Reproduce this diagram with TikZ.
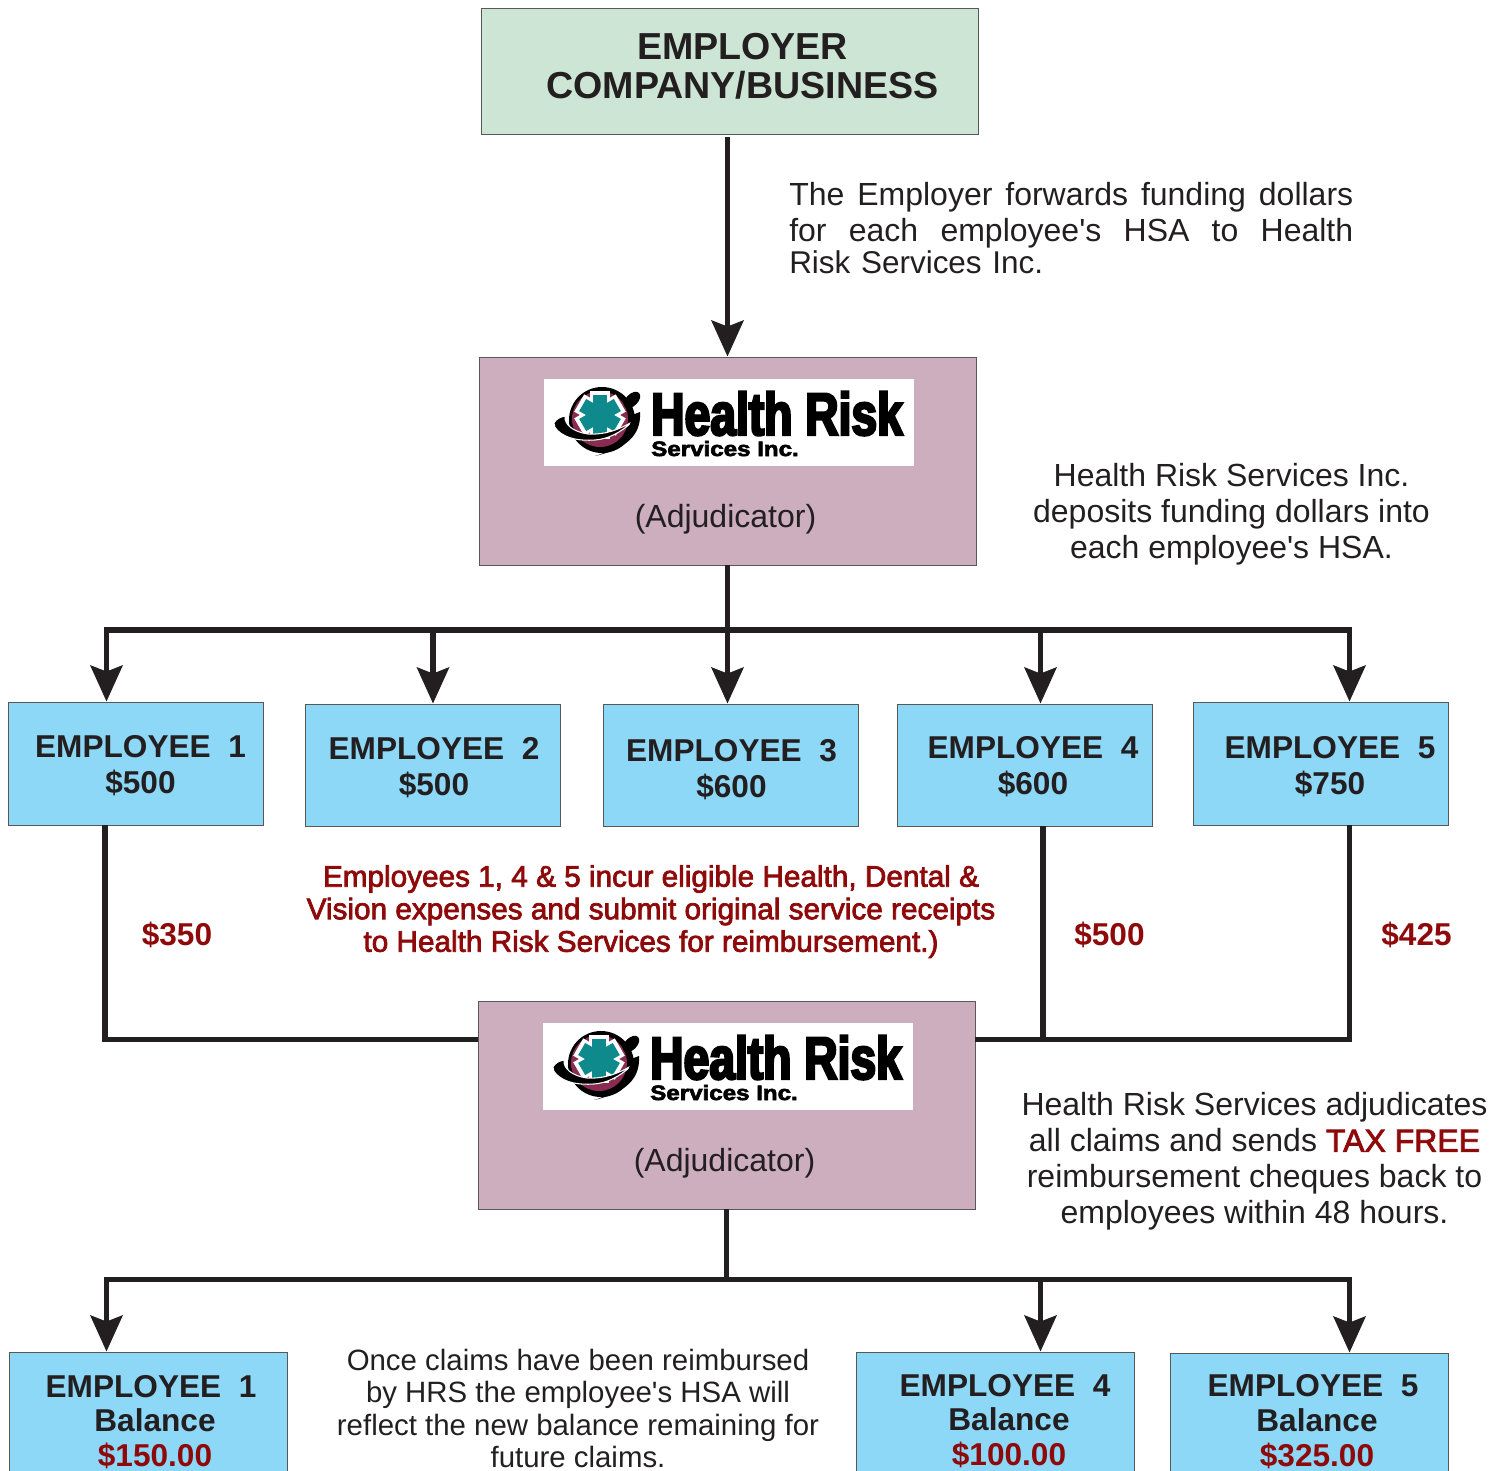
\documentclass[tikz,border=0pt]{standalone}
\usepackage{fontspec}
\setmainfont{Liberation Sans}
\newfontfamily\hrsfont[FakeStretch=0.77,BoldFeatures={FakeBold=4}]{Liberation Sans}
\newfontfamily\hrssmall[FakeStretch=1.16,BoldFeatures={FakeBold=3}]{Liberation Sans}
\newfontfamily\redfont[FakeBold=2.5]{Liberation Sans}
\usetikzlibrary{arrows.meta}
\definecolor{inkblack}{HTML}{231F20}
\definecolor{employergreen}{HTML}{CCE5D5}
\definecolor{hrsmauve}{HTML}{CDAEBE}
\definecolor{staffblue}{HTML}{8DD7F7}
\definecolor{claimred}{HTML}{8E0A0A}
\definecolor{logoteal}{HTML}{0E8A8C}
\definecolor{logomaroon}{HTML}{8A2C52}
\tikzset{
  boxed/.style={draw=inkblack!75, line width=0.7pt, minimum width=#1*0.75pt, inner sep=0pt},
  flow/.style={draw=inkblack, line width=4pt},
  flowtip/.style={flow, -{Stealth[length=27pt,width=24pt,inset=4.5pt]}},
  bigtxt/.style={font=\fontsize{28.2}{29.25}\selectfont\bfseries, text=inkblack, align=center},
  stafftxt/.style={font=\fontsize{23.7}{27}\selectfont\bfseries, text=inkblack, align=center},
  baltxt/.style={font=\fontsize{23.7}{26}\selectfont\bfseries, text=inkblack, align=center},
  bodytxt/.style={font=\fontsize{24}{27}\selectfont, text=inkblack, align=center},
  notetxt/.style={font=\fontsize{22.05}{24.4}\selectfont, text=inkblack, align=center, inner sep=0pt},
  redtxt/.style={font=\fontsize{22.3}{24.4}\selectfont\redfont, text=claimred, align=center},
  sumtxt/.style={font=\fontsize{23.7}{27}\selectfont\bfseries, text=claimred},
  pics/hrslogo/.style={code={
    \fill[white] (0,0) rectangle (370,87);
    % emblem
    \fill[black] (58,41) circle (33);
    \fill[logomaroon] (56,40) circle (28);
    \foreach \a in {0,60,120}{
      \fill[white, rotate around={\a:(56,36)}] (46,12) rectangle (66,60);}
    \foreach \a in {0,60,120}{
      \fill[logoteal, rotate around={\a:(56,36)}] (49,16) rectangle (63,56);}
    % swoosh and figure
    \fill[black, draw=white, line width=0.8pt] (10,44) .. controls (12,40) and (16,38) .. (21,37)
      .. controls (20,46) and (30,53) .. (44,55) .. controls (62,56) and (76,50) .. (88,43)
      .. controls (76,54) and (64,60) .. (51,61) .. controls (36,62) and (22,60) .. (13,51)
      .. controls (11,49) and (10,47) .. (10,44) -- cycle;
    \fill[black] (96,33) .. controls (97,50) and (90,68) .. (51,77)
      .. controls (70,72) and (86,56) .. (88,36) -- cycle;
    \fill[black, rotate around={45:(88,21)}] (88,21) ellipse (10 and 6);
    % name
    \node[anchor=base west, inner sep=0pt, font=\fontsize{45}{45}\selectfont\bfseries\hrsfont] (hrsname) at (107,56) {Health Risk};
    \node[anchor=base west, inner sep=0pt, font=\fontsize{15.6}{16}\selectfont\bfseries\hrssmall] (hrssub) at (107,77) {Services Inc.};
  }}
}

\begin{document}
\begin{tikzpicture}[x=0.75pt,y=-0.75pt]
  \useasboundingbox (0,0) rectangle (1504,1471);
  \clip (0,0) rectangle (1504,1471);

  % Employer
  \node[boxed=497, fill=employergreen, minimum height=126*0.75pt] (employer) at (729.5,71) {};
  \node[bigtxt] (employertxt) at (742.5,66.5) {EMPLOYER\\COMPANY/BUSINESS};
  \node[bodytxt, anchor=north west, align=left, inner sep=0pt, text width=423pt] (fundnote) at (789,182)
    {\leavevmode\hbox to 423pt{The\hfill Employer\hfill forwards\hfill funding\hfill dollars}\\
     \leavevmode\hbox to 423pt{for\hfill each\hfill employee\textquotesingle s\hfill HSA\hfill to\hfill Health}\\[-3pt]
     {\fontsize{23.6}{27}\selectfont Risk Services Inc.}};

  % Adjudicator, funding
  \node[boxed=497, fill=hrsmauve, minimum height=208*0.75pt] (hrsfund) at (727.5,461) {};
  \pic (logofund) at (544,379) {hrslogo};
  \node[bodytxt] (fundrole) at (725.5,519) {(Adjudicator)};
  \node[bodytxt] (depositnote) at (1231.5,514) {Health Risk Services Inc.\\deposits funding dollars into\\each employee\textquotesingle s HSA.};

  % Employees
  \node[boxed=255, fill=staffblue, minimum height=123*0.75pt] (emp1) at (135.5,763.5) {};
  \node[boxed=255, fill=staffblue, minimum height=122*0.75pt] (emp2) at (432.5,765) {};
  \node[boxed=255, fill=staffblue, minimum height=122*0.75pt] (emp3) at (730.5,765) {};
  \node[boxed=255, fill=staffblue, minimum height=122*0.75pt] (emp4) at (1024.5,765) {};
  \node[boxed=255, fill=staffblue, minimum height=123*0.75pt] (emp5) at (1320.5,763.5) {};
  \node[stafftxt] (emp1txt) at (140.5,766) {EMPLOYEE\ \ 1\\\$500};
  \node[stafftxt] (emp2txt) at (434,768) {EMPLOYEE\ \ 2\\\$500};
  \node[stafftxt] (emp3txt) at (731.5,770) {EMPLOYEE\ \ 3\\\$600};
  \node[stafftxt] (emp4txt) at (1033,767) {EMPLOYEE\ \ 4\\\$600};
  \node[stafftxt] (emp5txt) at (1330,767) {EMPLOYEE\ \ 5\\\$750};

  % Claims
  \node[redtxt] (claimnote) at (651,911.5) {Employees 1, 4 \& 5 incur eligible Health, Dental \&\\Vision expenses and submit original service receipts\\to Health Risk Services for reimbursement.)};
  \node[sumtxt] (sum1) at (177,934.5) {\$350};
  \node[sumtxt] (sum4) at (1109.5,934.5) {\$500};
  \node[sumtxt] (sum5) at (1416.5,934.5) {\$425};

  % Adjudicator, claims
  \node[boxed=497, fill=hrsmauve, minimum height=208*0.75pt] (hrsclaim) at (726.5,1105) {};
  \pic (logoclaim) at (543,1023) {hrslogo};
  \node[bodytxt] (claimrole) at (724.5,1163) {(Adjudicator)};
  \node[bodytxt] (taxnote) at (1254.5,1161.5) {Health Risk Services adjudicates\\all claims and sends {\color{claimred}\redfont TAX FREE}\\reimbursement cheques back to\\employees within 48 hours.};

  % Balances
  \node[boxed=278, fill=staffblue, minimum height=148*0.75pt] (bal1) at (148,1426) {};
  \node[boxed=278, fill=staffblue, minimum height=148*0.75pt] (bal4) at (995,1426) {};
  \node[boxed=278, fill=staffblue, minimum height=148*0.75pt] (bal5) at (1309,1427) {};
  \node[baltxt] (bal1txt) at (155,1422) {EMPLOYEE\ \ 1\hspace*{6pt}\\Balance\\{\color{claimred}\$150.00}};
  \node[baltxt] (bal4txt) at (1009,1421) {EMPLOYEE\ \ 4\hspace*{6pt}\\Balance\\{\color{claimred}\$100.00}};
  \node[baltxt] (bal5txt) at (1317,1421.5) {EMPLOYEE\ \ 5\hspace*{6pt}\\Balance\\{\color{claimred}\$325.00}};
  \node[notetxt] (balnote) at (578,1408.5) {Once claims have been reimbursed\\by HRS the employee\textquotesingle s HSA will\\reflect the new balance remaining for\\future claims.};

  % Funding lines
  \coordinate (fund1) at (106.5,630);
  \coordinate (fund2) at (433,630);
  \coordinate (fund3) at (727.5,630);
  \coordinate (fund4) at (1040.5,630);
  \coordinate (fund5) at (1349.5,630);
  \draw[flowtip, shorten <=2pt] (employer.south -| fund3) -- (fund3 |- hrsfund.north);
  \draw[flow] (fund3 |- hrsfund.south) -- (fund3);
  \draw[flow, line cap=rect] (fund1) -- (fund5);
  \draw[flowtip] (fund1) -- (fund1 |- emp1.north);
  \draw[flowtip] (fund2) -- (fund2 |- emp2.north);
  \draw[flowtip] (fund3) -- (fund3 |- emp3.north);
  \draw[flowtip] (fund4) -- (fund4 |- emp4.north);
  \draw[flowtip] (fund5) -- (fund5 |- emp5.north);

  % Claim lines
  \coordinate (claim1) at (105,1039.5);
  \coordinate (claim4) at (1043,1039.5);
  \coordinate (claim5) at (1349.5,1039.5);
  \draw[flow] (claim1 |- emp1.south) -- (claim1) -- (claim1 -| hrsclaim.west);
  \draw[flow] (claim5 |- emp5.south) -- (claim5) -- (claim5 -| hrsclaim.east);
  \draw[flow] (claim4 |- emp4.south) -- (claim4);

  % Reimbursement lines
  \coordinate (back1) at (106.5,1279.5);
  \coordinate (back3) at (726.5,1279.5);
  \coordinate (back4) at (1040.5,1279.5);
  \coordinate (back5) at (1349.5,1279.5);
  \draw[flow] (back3 |- hrsclaim.south) -- (back3);
  \draw[flow, line cap=rect] (back1) -- (back5);
  \draw[flowtip] (back1) -- (back1 |- bal1.north);
  \draw[flowtip] (back4) -- (back4 |- bal4.north);
  \draw[flowtip] (back5) -- (back5 |- bal5.north);
\end{tikzpicture}
\end{document}
